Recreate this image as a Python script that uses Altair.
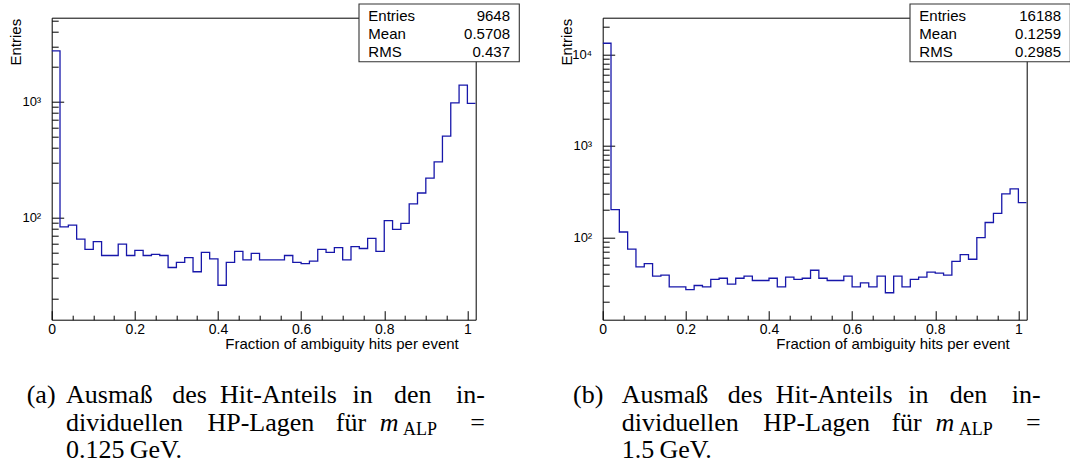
import altair as alt
import pandas as pd

# Histogram binning: 51 bins of width 0.02 covering [0, 1.02]
BIN_WIDTH = 0.02
X_MAX = 1.02

# Bin contents, m_ALP = 0.125 GeV
counts_a = [2760, 83, 86, 65, 53, 62, 47, 47, 59, 47,
            52, 47, 48, 47, 37, 41, 45, 34, 50, 44,
            26, 41, 51, 43, 49, 43, 43, 43, 47, 41,
            40, 42, 53, 50, 55, 43, 56, 54, 66, 51,
            94, 79, 89, 131, 163, 219, 303, 505, 979, 1393,
            968]

# Bin contents, m_ALP = 1.5 GeV
counts_b = [13200, 202, 115, 75, 48, 52, 38, 39, 29, 29,
            27, 30, 29, 35, 36, 31, 36, 38, 34, 34,
            36, 29, 37, 35, 36, 44, 36, 34, 34, 38,
            29, 32, 29, 38, 25, 38, 29, 35, 37, 42,
            41, 39, 55, 65, 58, 100, 146, 184, 300, 340,
            241]

stats_names = ["Entries", "Mean", "RMS"]
stats_a = ["9648", "0.5708", "0.437"]
stats_b = ["16188", "0.1259", "0.2985"]

x_major = [0, 0.2, 0.4, 0.6, 0.8, 1.0]
x_minor = [0.05, 0.1, 0.15, 0.25, 0.3, 0.35, 0.45, 0.5, 0.55,
           0.65, 0.7, 0.75, 0.85, 0.9, 0.95]

y_domain_a = [13.1, 5330]
y_major_a = [100, 1000]
y_minor_a = [20, 30, 40, 50, 60, 70, 80, 90,
             200, 300, 400, 500, 600, 700, 800, 900,
             2000, 3000, 4000, 5000]

y_domain_b = [12.7, 25100]
y_major_b = [100, 1000, 10000]
y_minor_b = [20, 30, 40, 50, 60, 70, 80, 90,
             200, 300, 400, 500, 600, 700, 800, 900,
             2000, 3000, 4000, 5000, 6000, 7000, 8000, 9000,
             20000]

x_title = "Fraction of ambiguity hits per event"
y_title = "Entries"

caption_a = ["(a)", "Ausmaß", "des", "Hit-Anteils", "in", "den", "in-",
             "dividuellen", "HP-Lagen", "für", "m", "ALP", "=",
             "0.125\u2009GeV."]
caption_b = ["(b)", "Ausmaß", "des", "Hit-Anteils", "in", "den", "in-",
             "dividuellen", "HP-Lagen", "für", "m", "ALP", "=",
             "1.5\u2009GeV."]

W, H = 424, 302
SANS = "Liberation Sans"
SERIF = "Liberation Serif"
LINE = "#1717aa"
ONE = alt.Data(values=[{}])


def hist_frame(counts):
    edges = [i * BIN_WIDTH for i in range(len(counts))] + [X_MAX]
    return pd.DataFrame({"x": edges, "n": counts + [counts[-1]]})


def tick_axis(orient, offset, values, size):
    return alt.Axis(orient=orient, offset=offset, values=values, labels=False,
                    domain=False, grid=False, ticks=True, tickSize=size,
                    tickColor="black", tickWidth=1, title=None)


def text(txt, x, y, size, font, align="left", style="normal"):
    return alt.Chart(ONE).mark_text(
        text=txt, align=align, baseline="alphabetic", font=font,
        fontSize=size, fontStyle=style, color="black"
    ).encode(x=alt.value(x), y=alt.value(y))


def caption_layers(words, dx):
    # three justified lines of the sub-figure caption; inner words are
    # centred on their slots so the spacing stays even
    l1, l2, l3 = 385.6, 413.0, 440.6
    fs = 26
    line_start = 14.3
    right_end = 433.3
    mid_1 = [137.8, 226.8, 311.0, 361.0]
    mid_2 = [209.2, 299.2]
    layers = [text(words[0], -25.0 - dx, l1, fs, SERIF)]
    layers.append(text(words[1], line_start + dx, l1, fs, SERIF))
    for w, x in zip(words[2:6], mid_1):
        layers.append(text(w, x + dx, l1, fs, SERIF, align="center"))
    layers.append(text(words[6], right_end + dx, l1, fs, SERIF, align="right"))
    layers.append(text(words[7], line_start + dx, l2, fs, SERIF))
    for w, x in zip(words[8:10], mid_2):
        layers.append(text(w, x + dx, l2, fs, SERIF, align="center"))
    layers.append(text(words[10], 337.5 + dx, l2, fs, SERIF, align="center",
                       style="italic"))
    layers.append(text(words[11], 368.3 + dx, l2 + 4.5, 18, SERIF,
                       align="center"))
    layers.append(text(words[12], right_end + dx, l2, fs, SERIF, align="right"))
    layers.append(text(words[13], line_start + dx, l3, fs, SERIF))
    return layers


def panel(counts, stats_vals, y_domain, y_major, y_minor, words, dx):
    base = alt.Chart(hist_frame(counts))
    xs = alt.Scale(domain=[0, X_MAX], nice=False, zero=False)
    ys = alt.Scale(type="log", domain=y_domain, nice=False)

    x_lab = alt.Axis(values=x_major, format="~g", ticks=False, domain=False,
                     grid=False, labelFont=SANS, labelFontSize=14,
                     labelColor="black", labelPadding=3, labelFlush=False,
                     labelOverlap=False, title=x_title, titleFont=SANS,
                     titleFontSize=15, titleFontWeight="normal",
                     titleColor="black", titleAlign="right",
                     titleBaseline="alphabetic", titleX=406.6, titleY=29.2)
    y_lab = alt.Axis(values=y_major,
                     labelExpr="datum.value >= 10000 ? '10\u2074' : "
                               "datum.value >= 1000 ? '10\u00b3' : '10\u00b2'",
                     ticks=False, domain=False, grid=False, labelFont=SANS,
                     labelFontSize=13, labelColor="black", labelPadding=11,
                     labelOverlap=False, title=y_title, titleFont=SANS,
                     titleFontSize=15, titleFontWeight="normal",
                     titleColor="black", titleAngle=270, titleAlign="right",
                     titleBaseline="alphabetic", titleX=-31.0, titleY=0.6)

    major = base.mark_point(opacity=0).encode(
        x=alt.X("x:Q", scale=xs, axis=tick_axis("top", -H, x_major, 9)),
        y=alt.Y("n:Q", scale=ys, axis=tick_axis("right", -W, y_major, 12)))
    minor = base.mark_point(opacity=0).encode(
        x=alt.X("x:Q", scale=xs, axis=tick_axis("top", -H, x_minor, 4.5)),
        y=alt.Y("n:Q", scale=ys, axis=tick_axis("right", -W, y_minor, 6.5)))
    hist = base.mark_line(interpolate="step-after", color=LINE,
                          strokeWidth=1.3, clip=True).encode(
        x=alt.X("x:Q", scale=xs, axis=x_lab),
        y=alt.Y("n:Q", scale=ys, axis=y_lab))

    box = alt.Chart(ONE).mark_rect(fill="white", stroke="#333333",
                                   strokeWidth=1.1).encode(
        x=alt.value(307.3), x2=alt.value(467.6),
        y=alt.value(-13.7), y2=alt.value(44.0))
    layers = [major, minor, hist, box]
    for row, (name, val) in enumerate(zip(stats_names, stats_vals)):
        yb = 3.0 + 18.3 * row
        layers.append(text(name, 316.6, yb, 15, SANS))
        layers.append(text(val, 458.3, yb, 15, SANS, align="right"))
    layers += caption_layers(words, dx)

    return alt.layer(*layers).resolve_axis(x="independent", y="independent").properties(
        width=W, height=H)


left = panel(counts_a, stats_a, y_domain_a, y_major_a, y_minor_a, caption_a, 0.0)
right = panel(counts_b, stats_b, y_domain_b, y_major_b, y_minor_b, caption_b, 4.7)

chart = alt.hconcat(left, right, spacing=127, bounds="flush").properties(
    autosize=alt.AutoSizeParams(type="none"),
    padding={"left": 51.7, "top": 17.7, "right": 1070 - 51.7, "bottom": 465 - 17.7},
    background="white",
).configure_view(stroke="black", strokeWidth=1)

chart.save("out.html", embed_options={"renderer": "svg", "actions": False})
